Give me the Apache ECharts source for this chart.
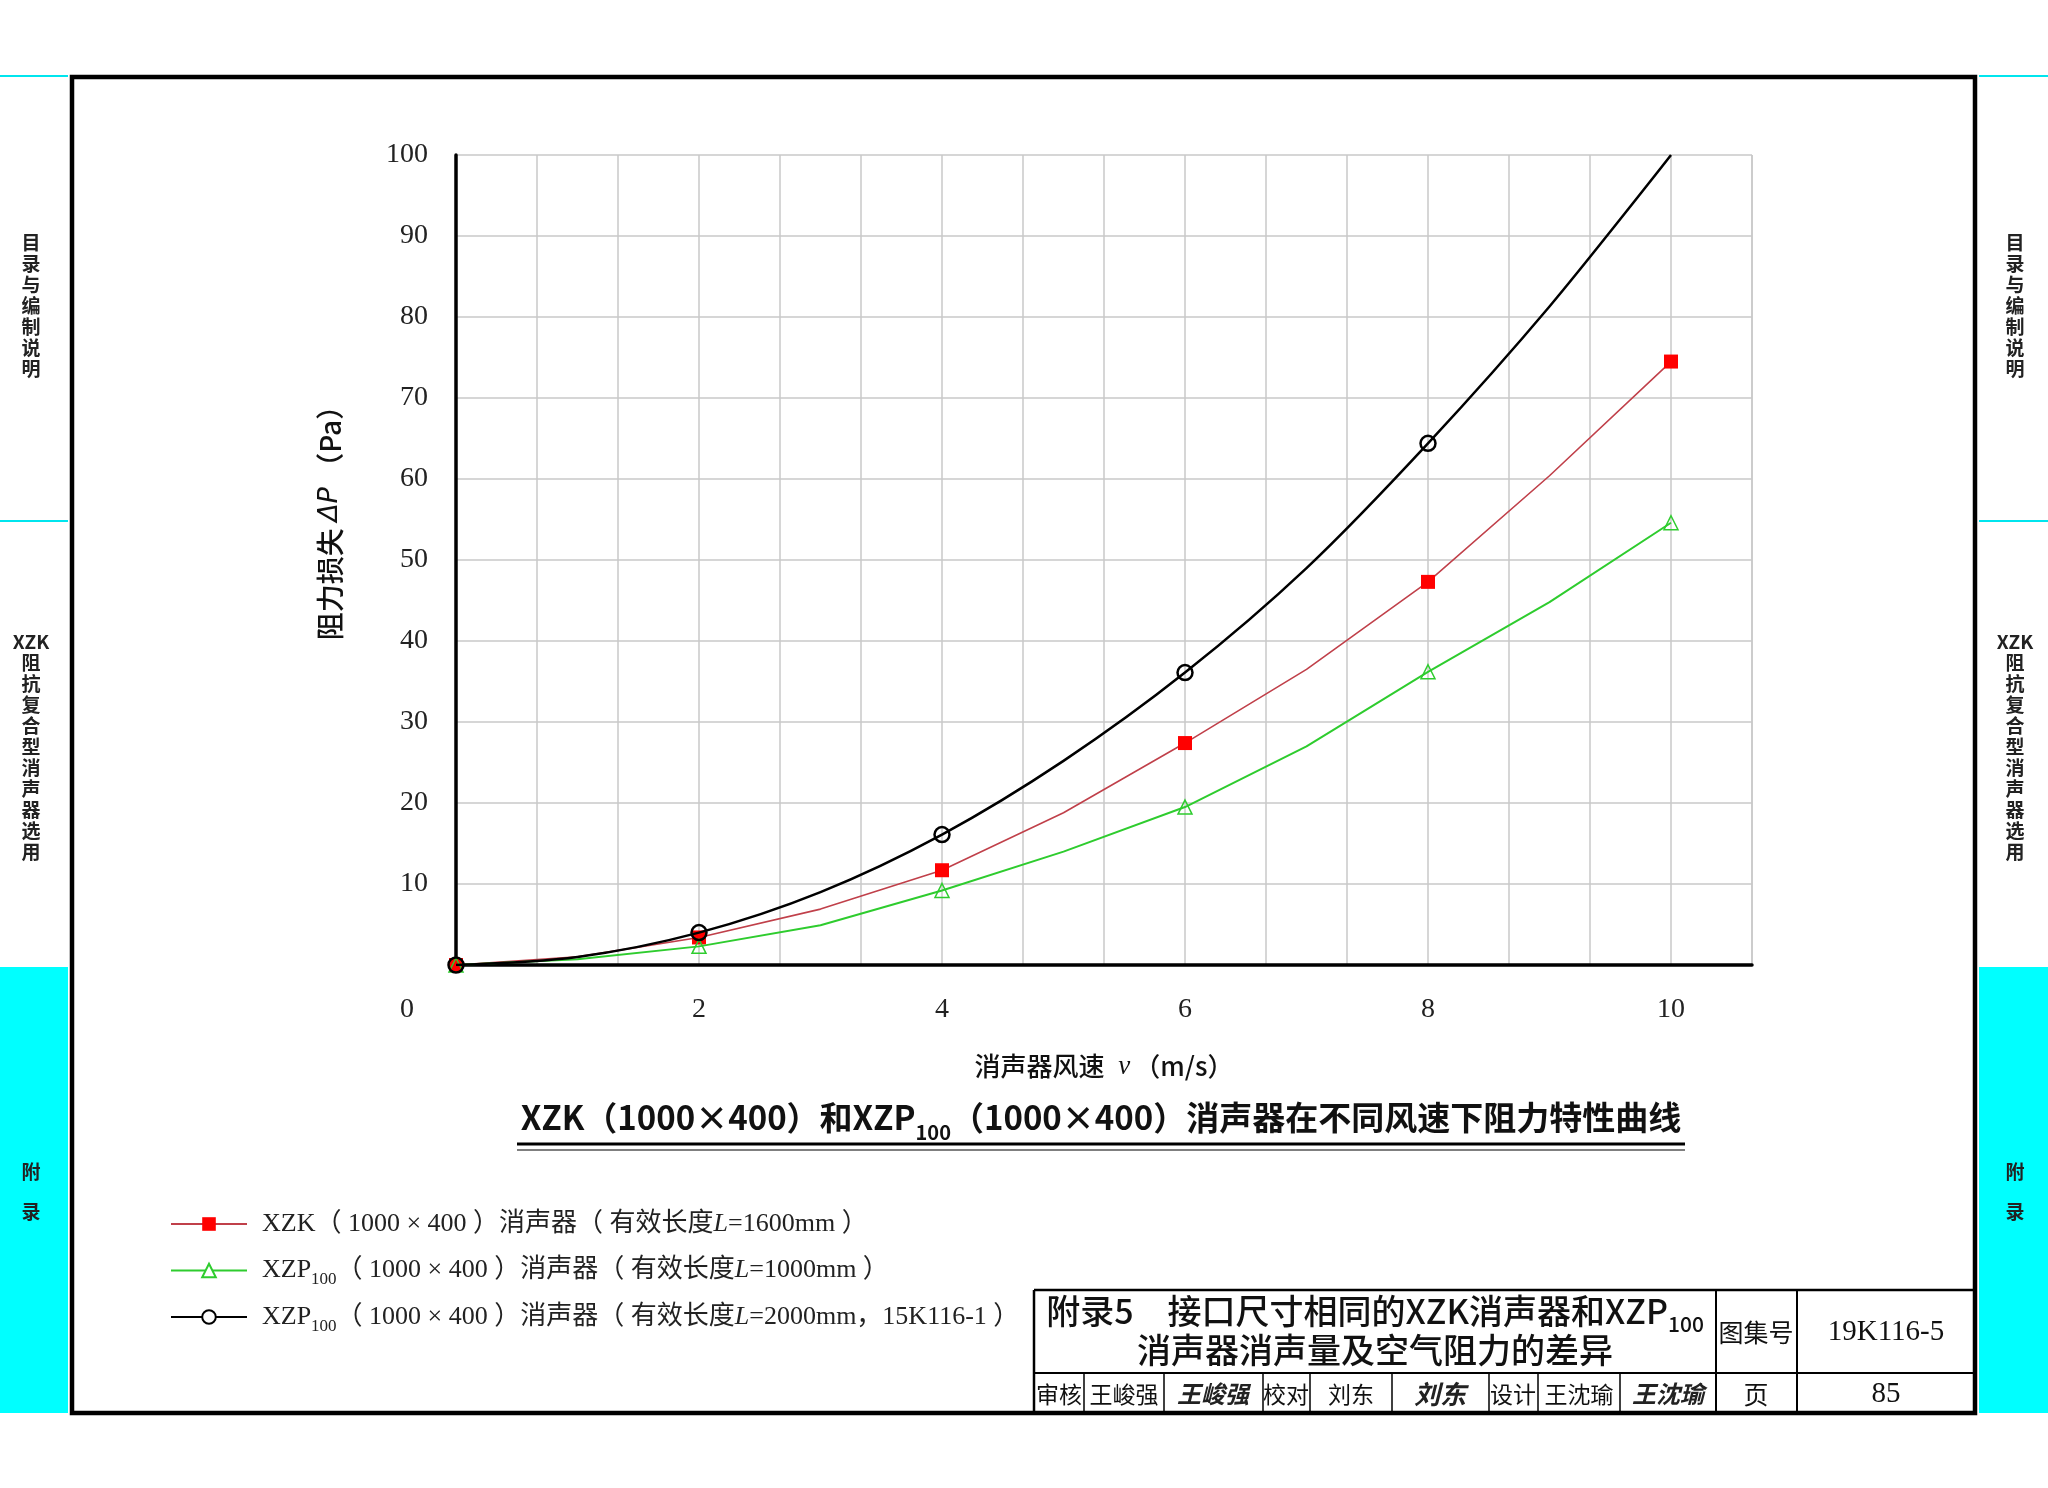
<!DOCTYPE html>
<html><head><meta charset="utf-8">
<script src="https://cdn.jsdelivr.net/npm/echarts@6/dist/echarts.min.js"></script>
<style>html,body{margin:0;padding:0;background:#fff}#c{width:2048px;height:1488px}</style>
</head><body><div id="c"></div>
<script>
// ---- data ----
const speeds = [0, 1, 2, 3, 4, 5, 6, 7, 8, 9, 10];
const markedSpeeds = [0, 2, 4, 6, 8, 10];
const markedSpeedsL2000 = [0, 2, 4, 6, 8];
const xzkLoss = [0, 1.0, 3.4, 6.9, 11.7, 18.8, 27.4, 36.5, 47.3, 60.4, 74.5];
const xzp1000Loss = [0, 0.7, 2.3, 4.9, 9.2, 14.0, 19.5, 27.0, 36.2, 44.8, 54.6];
const xzp2000Loss = [0, 1.0, 4.0, 9.0, 16.1, 25.2, 36.1, 49.0, 64.4, 81.3, 100];
const seriesNames = [
  'XZK（ 1000 × 400 ）消声器（ 有效长度L=1600mm ）',
  'XZP100（ 1000 × 400 ）消声器（ 有效长度L=1000mm ）',
  'XZP100（ 1000 × 400 ）消声器（ 有效长度L=2000mm，15K116-1 ）'
];
const xLabelSpeeds = [0, 2, 4, 6, 8, 10];
const yLabelValues = [10, 20, 30, 40, 50, 60, 70, 80, 90, 100];

const CJK = '"Noto Sans CJK SC"';
const SERIF = '"Liberation Serif","Noto Sans CJK SC"';

function build(arr, marks) {
  return speeds.map((v, i) => {
    const d = { value: [v, arr[i]] };
    if (marks.indexOf(v) < 0) d.symbol = 'none';
    return d;
  });
}

const chart = echarts.init(document.getElementById('c'), null, { renderer: 'canvas' });

function vText(x, y, text, lh) {
  return { type: 'text', silent: true, style: { x: x, y: y, text: text, align: 'center', verticalAlign: 'top',
    fontFamily: CJK, fontSize: 19, fontWeight: 'bold', lineHeight: lh || 21, fill: '#222' } };
}
function line(x1, y1, x2, y2, w, c) {
  return { type: 'line', silent: true, shape: { x1: x1, y1: y1, x2: x2, y2: y2 }, style: { stroke: c || '#000', lineWidth: w } };
}
function txt(x, y, text, size, opts) {
  return { type: 'text', silent: true, style: Object.assign({ x: x, y: y, text: text, align: 'center', verticalAlign: 'middle',
    fontFamily: CJK, fontSize: size, fill: '#111' }, opts || {}) };
}

const sideTop = 'XZK\n阻\n抗\n复\n合\n型\n消\n声\n器\n选\n用';
const graphics = [
  // side strips
  { type: 'rect', silent: true, shape: { x: 0, y: 967, width: 68, height: 446 }, style: { fill: '#00ffff' } },
  { type: 'rect', silent: true, shape: { x: 1979, y: 967, width: 69, height: 446 }, style: { fill: '#00ffff' } },
  line(0, 76, 68, 76, 2, '#00e5ee'), line(0, 521, 68, 521, 2, '#00e5ee'),
  line(1979, 76, 2048, 76, 2, '#00e5ee'), line(1979, 521, 2048, 521, 2, '#00e5ee'),
  vText(31, 232, '目\n录\n与\n编\n制\n说\n明'),
  vText(2015, 232, '目\n录\n与\n编\n制\n说\n明'),
  vText(31, 631, sideTop),
  vText(2015, 631, sideTop),
  vText(31, 1162, '附\n\n录', 20),
  vText(2015, 1162, '附\n\n录', 20),
  // frame
  { type: 'rect', silent: true, shape: { x: 72, y: 77, width: 1903, height: 1336 }, style: { fill: 'none', stroke: '#000', lineWidth: 4.5 } },
  // chart title
  { type: 'text', silent: true, style: { x: 1101, y: 1117, align: 'center', verticalAlign: 'middle',
    text: 'XZK（1000×400）和XZP{s|100}（1000×400）消声器在不同风速下阻力特性曲线',
    fontFamily: CJK, fontSize: 33, fontWeight: 'bold', lineHeight: 50, fill: '#111',
    rich: { s: { fontFamily: CJK, fontSize: 20, fontWeight: 'bold', lineHeight: 20, verticalAlign: 'bottom', fill: '#111' } } } },
  line(517, 1144, 1685, 1144, 3), line(517, 1150, 1685, 1150, 1.2),
  // title block
  line(1034, 1290, 1975, 1290, 2.5),
  line(1034, 1373, 1975, 1373, 2),
  line(1034, 1290, 1034, 1413, 2.5),
  line(1716, 1290, 1716, 1413, 2),
  line(1797, 1290, 1797, 1413, 2),
  line(1084, 1373, 1084, 1413, 1.5), line(1164, 1373, 1164, 1413, 1.5),
  line(1263, 1373, 1263, 1413, 1.5), line(1310, 1373, 1310, 1413, 1.5),
  line(1392, 1373, 1392, 1413, 1.5), line(1489, 1373, 1489, 1413, 1.5),
  line(1538, 1373, 1538, 1413, 1.5), line(1620, 1373, 1620, 1413, 1.5),
  { type: 'text', silent: true, style: { x: 1375, y: 1311, align: 'center', verticalAlign: 'middle',
    text: '附录5　接口尺寸相同的XZK消声器和XZP{s|100}',
    fontFamily: CJK, fontSize: 34, fontWeight: 500, lineHeight: 48, fill: '#111',
    rich: { s: { fontFamily: CJK, fontSize: 21, fontWeight: 500, lineHeight: 21, verticalAlign: 'bottom', fill: '#111' } } } },
  txt(1375, 1350, '消声器消声量及空气阻力的差异', 34, { fontWeight: 500 }),
  txt(1756, 1332, '图集号', 25),
  txt(1886, 1332, '19K116-5', 29, { fontFamily: SERIF }),
  txt(1756, 1394, '页', 25),
  txt(1886, 1394, '85', 29, { fontFamily: SERIF }),
  txt(1059, 1394, '审核', 23),
  txt(1124, 1394, '王峻强', 23),
  txt(1213, 1394, '王峻强', 24, { fontStyle: 'italic', fontWeight: 'bold', fill: '#222' }),
  txt(1286, 1394, '校对', 23),
  txt(1351, 1394, '刘东', 23),
  txt(1440, 1394, '刘东', 26, { fontStyle: 'italic', fontWeight: 'bold', fill: '#222' }),
  txt(1513, 1394, '设计', 23),
  txt(1579, 1394, '王沈瑜', 23),
  txt(1668, 1394, '王沈瑜', 24, { fontStyle: 'italic', fontWeight: 'bold', fill: '#222' })
];

function legendFmt(name) {
  return name.replace('XZP100', 'XZP{s|100}').replace('L=', '{i|L}=');
}

const option = {
  animation: false,
  backgroundColor: '#fff',
  grid: { left: 456, top: 155, width: 1296, height: 810, containLabel: false },
  xAxis: {
    type: 'value', min: 0, max: 32 / 3, interval: 2 / 3,
    name: '消声器风速 {i|v}（m/s）', nameLocation: 'middle', nameGap: 88,
    nameTextStyle: { fontFamily: CJK, fontSize: 26, fontWeight: 500, color: '#111',
      rich: { i: { fontFamily: SERIF, fontStyle: 'italic', fontSize: 27, color: '#111', padding: [0, 4, 0, 8] } } },
    axisLine: { show: true, onZero: false, lineStyle: { color: '#000', width: 3.5 } },
    axisTick: { show: false },
    splitLine: { show: true, lineStyle: { color: '#c8c8c8', width: 1.5 } },
    axisLabel: {
      margin: 31, fontFamily: SERIF, fontSize: 28, color: '#222',
      formatter: function (v) {
        const r = Math.round(v);
        if (Math.abs(v - r) > 1e-6) return '';
        if (xLabelSpeeds.indexOf(r) < 0) return '';
        if (r === 0) return '{o|0}';
        return String(r);
      },
      rich: { o: { fontFamily: SERIF, fontSize: 28, color: '#222', padding: [0, 98, 0, 0] } }
    }
  },
  yAxis: {
    type: 'value', min: 0, max: 100, interval: 10,
    name: '阻力损失 {i|ΔP} （Pa）', nameLocation: 'middle', nameRotate: 90, nameGap: 112,
    nameTextStyle: { fontFamily: CJK, fontSize: 28, fontWeight: 500, color: '#111', padding: [0, 0, 0, 88],
      rich: { i: { fontFamily: '"DejaVu Sans"', fontStyle: 'italic', fontSize: 27, color: '#111' } } },
    axisLine: { show: true, lineStyle: { color: '#000', width: 3.5 } },
    axisTick: { show: false },
    splitLine: { show: true, lineStyle: { color: '#c8c8c8', width: 1.5 } },
    axisLabel: {
      margin: 28, fontFamily: SERIF, fontSize: 28, color: '#222',
      formatter: function (v) { return yLabelValues.indexOf(Math.round(v)) >= 0 ? String(Math.round(v)) : ''; }
    }
  },
  legend: {
    orient: 'vertical', left: 170, top: 1206, padding: 0,
    itemWidth: 76, itemHeight: 17, itemGap: 10.5, selectedMode: false,
    data: [
      { name: seriesNames[0] },
      { name: seriesNames[1], itemStyle: { color: '#fff' } },
      { name: seriesNames[2], itemStyle: { color: '#fff' } }
    ],
    formatter: legendFmt,
    textStyle: {
      fontFamily: SERIF, fontSize: 26, lineHeight: 36, color: '#222', padding: [0, 0, 0, 10],
      rich: {
        s: { fontFamily: SERIF, fontSize: 17, lineHeight: 14, verticalAlign: 'bottom', color: '#222' },
        i: { fontFamily: SERIF, fontStyle: 'italic', fontSize: 26, lineHeight: 36, color: '#222' }
      }
    }
  },
  series: [
    {
      name: seriesNames[0], type: 'line', data: build(xzkLoss, markedSpeeds),
      symbol: 'rect', symbolSize: 14, showAllSymbol: true,
      itemStyle: { color: '#ff0000' },
      lineStyle: { color: '#c0404a', width: 1.6 }, z: 3
    },
    {
      name: seriesNames[1], type: 'line', data: build(xzp1000Loss, markedSpeeds),
      symbol: 'triangle', symbolSize: 14, showAllSymbol: true,
      itemStyle: { color: 'rgba(255,255,255,0)', borderColor: '#2ecc2e', borderWidth: 1.5 },
      lineStyle: { color: '#2ecc2e', width: 2 }, z: 4
    },
    {
      name: seriesNames[2], type: 'line', data: build(xzp2000Loss, markedSpeedsL2000), smooth: 0.3,
      symbol: 'circle', symbolSize: 15, showAllSymbol: true,
      itemStyle: { color: 'rgba(255,255,255,0)', borderColor: '#000', borderWidth: 2.5 },
      lineStyle: { color: '#000', width: 2.5 }, z: 5
    }
  ],
  graphic: { elements: graphics }
};
chart.setOption(option);
</script>
</body></html>
